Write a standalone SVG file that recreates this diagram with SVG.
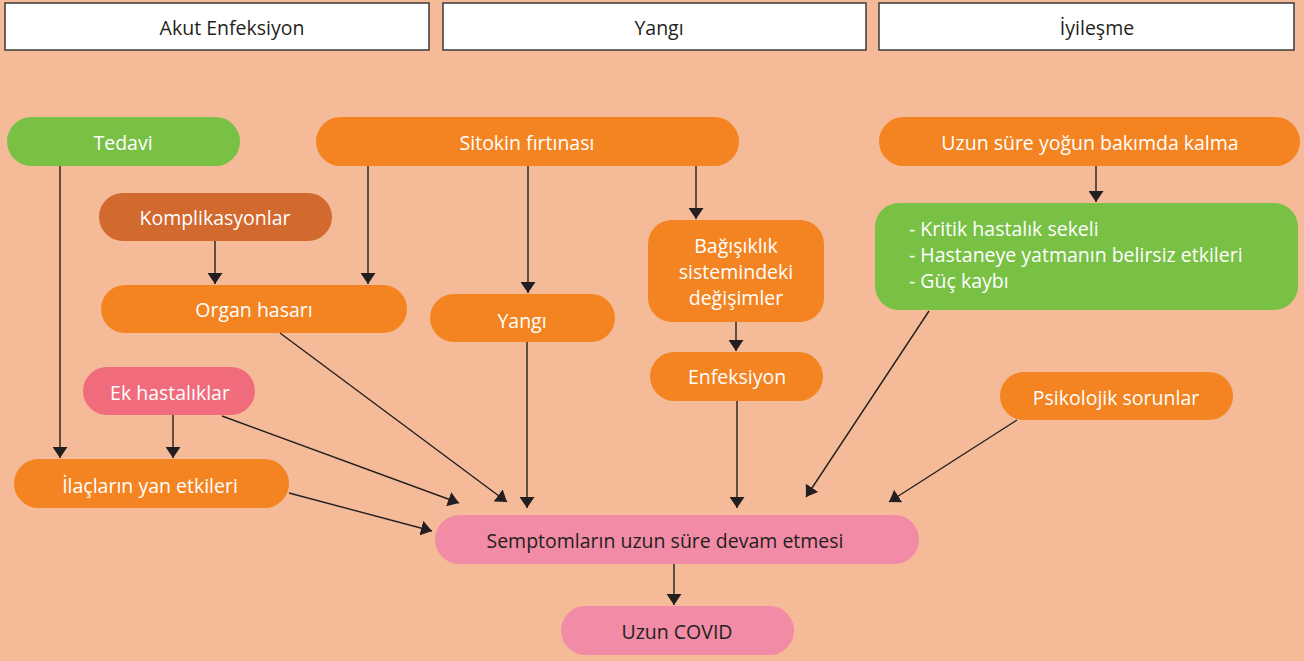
<svg xmlns="http://www.w3.org/2000/svg" width="1304" height="661" viewBox="0 0 1304 661">
<defs>
<marker id="ah" viewBox="0 0 11 15" refX="11" refY="7.5" markerWidth="11" markerHeight="15" markerUnits="userSpaceOnUse" orient="auto">
<path d="M0,0 L11,7.5 L0,15 Z" fill="#231F20"/>
</marker>
<style>
text{font-family:"Open Sans","Noto Sans",sans-serif;font-size:19.5px;text-anchor:middle;dominant-baseline:central;}
.w{fill:#ffffff}
.d{fill:#231F20}
.hdr{fill:#ffffff;stroke:#3a3a3a;stroke-width:1.5}
.or{fill:#F48421}
.gr{fill:#78C145}
.br{fill:#D2692F}
.pk{fill:#F06C7C}
.lp{fill:#F28BA5}
.c{stroke:#231F20;stroke-width:1.4;fill:none;marker-end:url(#ah)}
</style>
</defs>
<rect width="1304" height="661" fill="#F5BB98"/>
<g id="headers">
<rect class="hdr" x="5" y="3" width="424" height="47"/>
<text class="d" x="232" y="27">Akut Enfeksiyon</text>
<rect class="hdr" x="443" y="3" width="423" height="47"/>
<text class="d" x="659" y="27">Yangı</text>
<rect class="hdr" x="879" y="3" width="415" height="47"/>
<text class="d" x="1097" y="27">İyileşme</text>
</g>
<g id="connectors">
<line class="c" x1="60" y1="166" x2="60" y2="458"/>
<line class="c" x1="215" y1="241" x2="215" y2="284"/>
<line class="c" x1="368" y1="166" x2="368" y2="284"/>
<line class="c" x1="528" y1="166" x2="528" y2="293"/>
<line class="c" x1="696" y1="166" x2="696" y2="219"/>
<line class="c" x1="736" y1="322" x2="736" y2="351"/>
<line class="c" x1="1096" y1="166" x2="1096" y2="202"/>
<line class="c" x1="173" y1="415" x2="173" y2="458"/>
<line class="c" x1="280" y1="333" x2="507" y2="502"/>
<line class="c" x1="222" y1="416" x2="459" y2="503"/>
<line class="c" x1="289" y1="493" x2="432" y2="531"/>
<line class="c" x1="527" y1="342" x2="527" y2="508"/>
<line class="c" x1="737" y1="401" x2="737" y2="508"/>
<line class="c" x1="929" y1="311" x2="806" y2="497"/>
<line class="c" x1="1017" y1="420" x2="889" y2="502"/>
<line class="c" x1="674" y1="564" x2="674" y2="605"/>
</g>
<g id="tedavi"><rect class="gr" x="7" y="117" width="233" height="49" rx="24.5"/><text class="w" x="123" y="142">Tedavi</text></g>
<g id="sitokin"><rect class="or" x="316" y="117" width="423" height="49" rx="24.5"/><text class="w" x="527" y="142">Sitokin fırtınası</text></g>
<g id="yogunbakim"><rect class="or" x="879" y="117" width="421" height="49" rx="24.5"/><text class="w" x="1090" y="142">Uzun süre yoğun bakımda kalma</text></g>
<g id="komplikasyonlar"><rect class="br" x="99" y="193" width="233" height="48" rx="24"/><text class="w" x="215" y="217">Komplikasyonlar</text></g>
<g id="organ"><rect class="or" x="101" y="285" width="306" height="48" rx="24"/><text class="w" x="254" y="309">Organ hasarı</text></g>
<g id="yangi"><rect class="or" x="430" y="294" width="185" height="48" rx="24"/><text class="w" x="522" y="320">Yangı</text></g>
<g id="bagisiklik"><rect class="or" x="648" y="220" width="176" height="102" rx="24"/>
<text class="w" x="736" y="245">Bağışıklık</text><text class="w" x="736" y="271">sistemindeki</text><text class="w" x="736" y="297">değişimler</text></g>
<g id="kritik"><rect class="gr" x="875" y="203" width="423" height="107" rx="24"/>
<text class="w" x="909" y="228" style="text-anchor:start">- Kritik hastalık sekeli</text>
<text class="w" x="909" y="254" style="text-anchor:start">- Hastaneye yatmanın belirsiz etkileri</text>
<text class="w" x="909" y="280" style="text-anchor:start">- Güç kaybı</text></g>
<g id="enfeksiyon"><rect class="or" x="650" y="352" width="173" height="49" rx="24.5"/><text class="w" x="737" y="376">Enfeksiyon</text></g>
<g id="ekhastalik"><rect class="pk" x="83" y="367" width="172" height="48" rx="24"/><text class="w" x="170" y="392">Ek hastalıklar</text></g>
<g id="psikolojik"><rect class="or" x="1000" y="372" width="233" height="48" rx="24"/><text class="w" x="1116" y="397">Psikolojik sorunlar</text></g>
<g id="ilaclar"><rect class="or" x="14" y="459" width="275" height="49" rx="24.5"/><text class="w" x="150" y="485">İlaçların yan etkileri</text></g>
<g id="semptom"><rect class="lp" x="435" y="515" width="484" height="49" rx="24.5"/><text class="d" x="665" y="540">Semptomların uzun süre devam etmesi</text></g>
<g id="uzuncovid"><rect class="lp" x="561" y="606" width="233" height="49" rx="24.5"/><text class="d" x="677" y="631">Uzun COVID</text></g>
</svg>
